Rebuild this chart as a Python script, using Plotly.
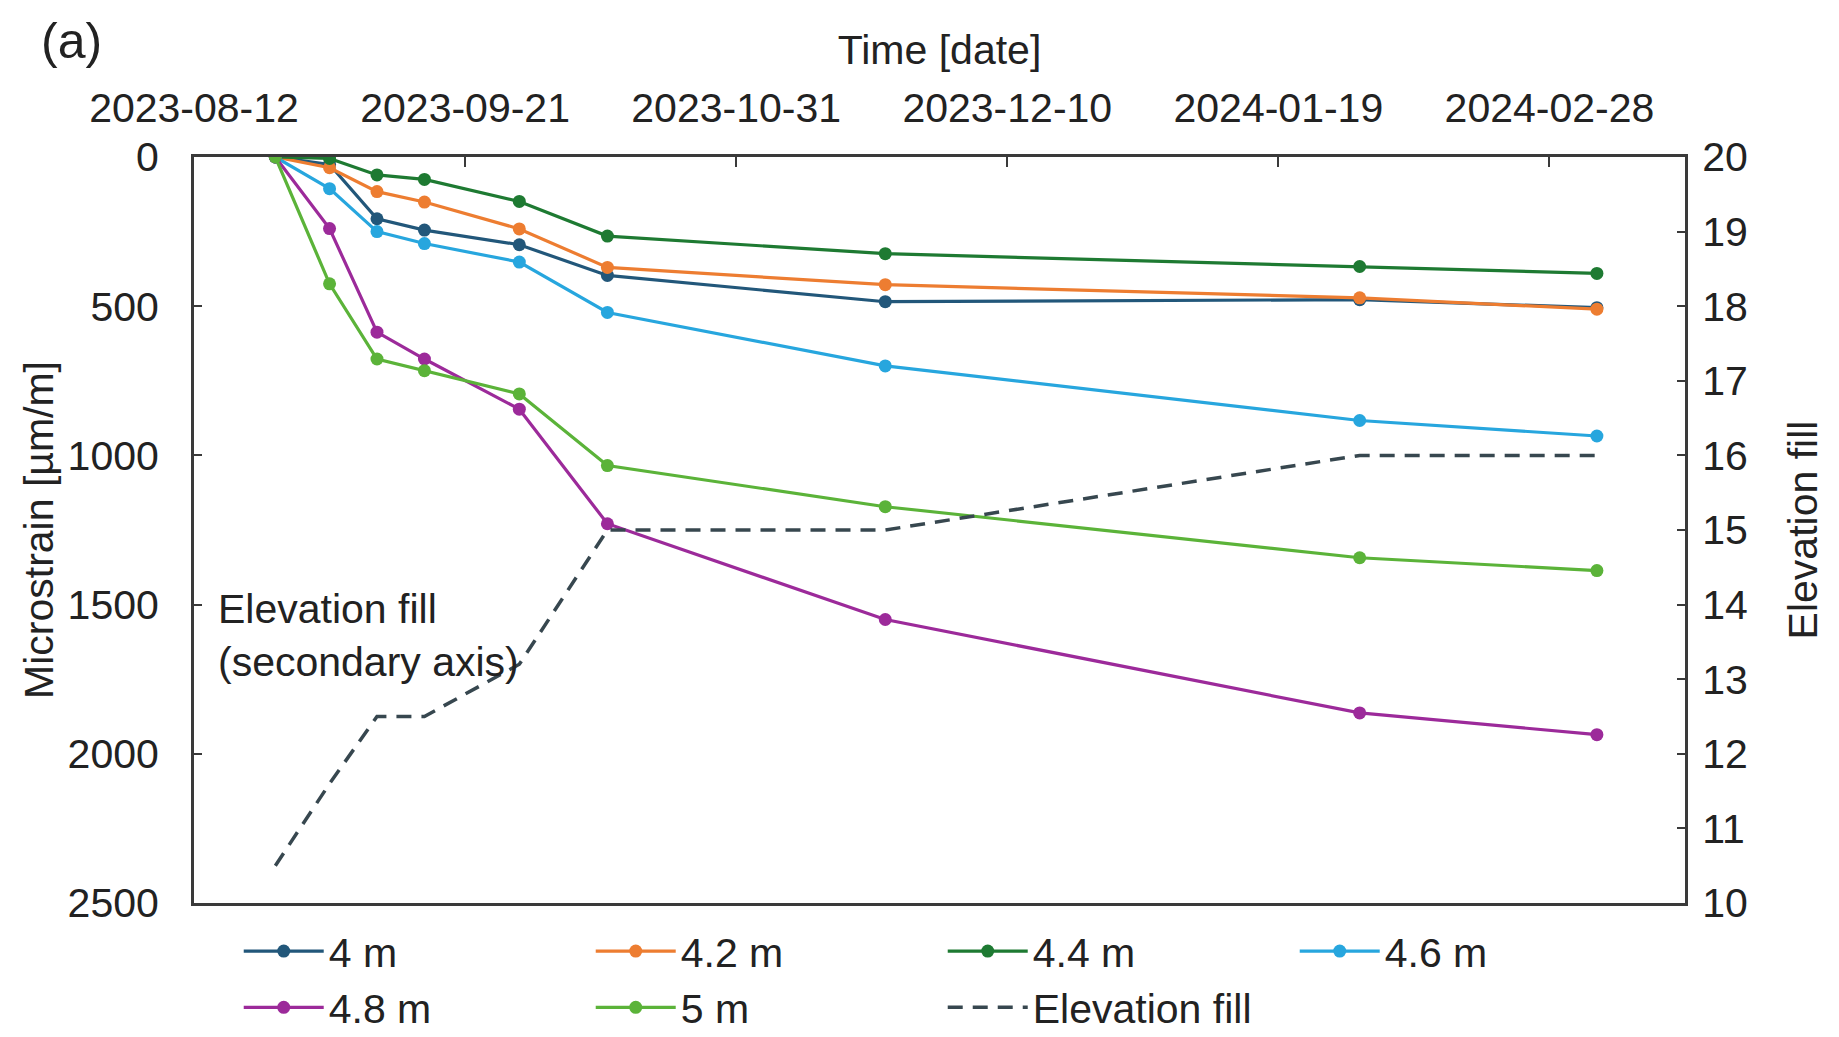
import plotly.graph_objects as go

# ---- data ----
dates = ["2023-08-24", "2023-09-01", "2023-09-08", "2023-09-15", "2023-09-29",
         "2023-10-12", "2023-11-22", "2024-01-31", "2024-03-06"]
strain_4_0 = [0, 25, 207, 245, 294, 397, 485, 478, 505]
strain_4_2 = [0, 36, 116, 151, 241, 370, 428, 472, 510]
strain_4_4 = [0, 5, 60, 75, 149, 265, 324, 367, 390]
strain_4_6 = [0, 106, 250, 290, 352, 521, 700, 883, 935]
strain_4_8 = [0, 240, 587, 677, 845, 1229, 1550, 1863, 1936]
strain_5_0 = [0, 425, 677, 716, 794, 1034, 1172, 1343, 1386]
elevation_fill = [10.5, 11.6, 12.5, 12.5, 13.2, 15, 15, 16, 16]

series_names = ["4 m", "4.2 m", "4.4 m", "4.6 m", "4.8 m", "5 m"]
series_colors = ["#22577a", "#ed7d31", "#1e7a32", "#27a6de", "#9c2a9a", "#5bb339"]
tick_dates = ["2023-08-12", "2023-09-21", "2023-10-31", "2023-12-10", "2024-01-19", "2024-02-28"]
x_range = ["2023-08-12", "2024-03-19"]
y_ticks = [0, 500, 1000, 1500, 2000, 2500]
y2_ticks = [10, 11, 12, 13, 14, 15, 16, 17, 18, 19, 20]

FONT = "Liberation Sans, Arial, sans-serif"
FS = 41
FT = 41
AX = "#3a3a3a"

fig = go.Figure()
all_series = [strain_4_0, strain_4_2, strain_4_4, strain_4_6, strain_4_8, strain_5_0]
for name, col, vals in zip(series_names, series_colors, all_series):
    fig.add_trace(go.Scatter(
        x=dates, y=vals, name=name, mode="lines+markers",
        line=dict(color=col, width=3.2),
        marker=dict(color=col, size=13),
        yaxis="y",
    ))

fig.add_trace(go.Scatter(
    x=dates, y=elevation_fill, name="Elevation fill", mode="lines",
    line=dict(color="#37474f", width=3.5, dash="15px,10px"),
    yaxis="y2",
))

# page body has an 8px default margin, so the figure is 8px smaller
fig.update_layout(
    width=1831, height=1029,
    paper_bgcolor="white", plot_bgcolor="white",
    margin=dict(l=186, r=154, t=149, b=134, autoexpand=False),
    font=dict(family=FONT, size=FS, color="#222222"),
    showlegend=True,
    legend=dict(
        orientation="h", x=0.03, y=-0.02, xanchor="left", yanchor="top",
        entrywidth=257, entrywidthmode="pixels", itemwidth=80,
        font=dict(size=FS), tracegroupgap=0, traceorder="normal",
    ),
    xaxis=dict(
        type="date", side="top", range=x_range, automargin=False,
        tickvals=tick_dates, ticktext=tick_dates,
        ticks="inside", ticklen=10, tickwidth=2, tickcolor=AX,
        showline=True, linecolor=AX, linewidth=3, mirror=True,
        showgrid=False, zeroline=False,
        title=dict(text="Time [date]", standoff=8, font=dict(size=FT)),
        tickfont=dict(size=FS), ticklabelstandoff=16,
    ),
    yaxis=dict(
        range=[2500, 0], tickvals=y_ticks, automargin=False,
        ticks="inside", ticklen=8, tickwidth=2, tickcolor=AX,
        showline=True, linecolor=AX, linewidth=3,
        showgrid=False, zeroline=False,
        title=dict(text="Microstrain [µm/m]", standoff=2, font=dict(size=FT)),
        tickfont=dict(size=FS), ticklabelstandoff=24,
    ),
    yaxis2=dict(
        overlaying="y", side="right", range=[10, 20], tickvals=y2_ticks,
        automargin=False,
        ticks="inside", ticklen=8, tickwidth=2, tickcolor=AX,
        showline=True, linecolor=AX, linewidth=3,
        showgrid=False, zeroline=False,
        title=dict(text="Elevation fill", standoff=42, font=dict(size=FT)),
        tickfont=dict(size=FS), ticklabelstandoff=6,
    ),
)

fig.add_annotation(
    text="(a)", xref="paper", yref="paper", x=-0.082, y=1.156,
    xanchor="center", yanchor="middle", showarrow=False, font=dict(size=50),
)
fig.add_annotation(
    text="Elevation fill<br>(secondary axis)", xref="paper", yref="paper",
    x=0.015, y=0.358, xanchor="left", yanchor="middle", align="left",
    showarrow=False, font=dict(size=FS),
)

fig.write_html("out.html")
